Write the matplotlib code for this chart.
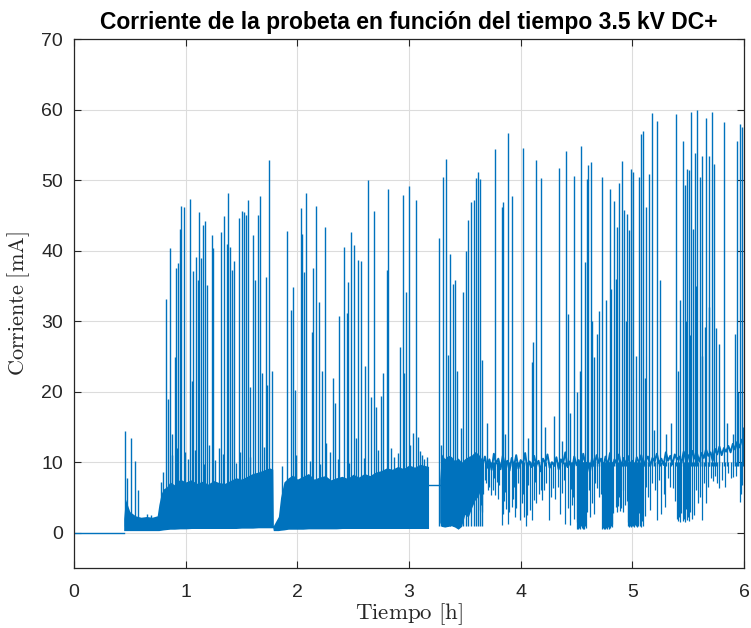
import numpy as np
import matplotlib.pyplot as plt

plt.rcParams['mathtext.fontset'] = 'cm'

BLUE = '#0072BD'
DARK = '#262626'

# --- data (time in h, current in mA) ---

# no current before the voltage is applied
flat_t = [0.0, 0.445]
flat_v = [0.0, 0.0]

# envelope of the dense band, 0.45 h - 3.18 h
band_t = [0.445, 0.46, 0.50, 0.55, 0.60, 0.65, 0.70, 0.745,
          0.76, 0.78, 0.80, 0.83, 0.86, 0.90, 0.95,
          1.00, 1.05, 1.10, 1.15, 1.20, 1.25, 1.30, 1.35, 1.40, 1.45,
          1.50, 1.55, 1.60, 1.65, 1.70, 1.75, 1.78,
          1.785, 1.83, 1.85, 1.88, 1.92, 1.96,
          2.00, 2.05, 2.10, 2.15, 2.20, 2.25, 2.30, 2.35, 2.40, 2.45,
          2.50, 2.55, 2.60, 2.65, 2.70, 2.75, 2.80, 2.85, 2.90, 2.95,
          3.00, 3.05, 3.10, 3.15, 3.175]
band_lo = [0.3, 0.3, 0.3, 0.3, 0.3, 0.3, 0.3, 0.3,
           0.3, 0.35, 0.4, 0.45, 0.5, 0.5, 0.55,
           0.55, 0.6, 0.6, 0.6, 0.6, 0.6, 0.6, 0.6, 0.6, 0.6,
           0.65, 0.65, 0.65, 0.7, 0.7, 0.7, 0.7,
           0.3, 0.3, 0.35, 0.4, 0.5, 0.5,
           0.5, 0.5, 0.55, 0.55, 0.55, 0.55, 0.55, 0.55, 0.6, 0.6,
           0.6, 0.6, 0.6, 0.6, 0.6, 0.6, 0.6, 0.6, 0.6, 0.6,
           0.6, 0.6, 0.6, 0.6, 0.6]
band_hi = [2.0, 4.8, 3.0, 2.4, 2.2, 2.3, 2.2, 2.4,
           4.0, 5.5, 6.2, 6.5, 7.2, 6.8, 7.6,
           7.2, 7.5, 7.0, 7.3, 6.9, 7.4, 7.1, 7.0, 7.4, 7.8,
           7.6, 8.0, 8.4, 8.6, 8.9, 9.2, 9.0,
           1.0, 2.3, 5.0, 7.2, 7.8, 8.2,
           7.6, 8.0, 8.4, 7.6, 7.9, 8.1, 7.5, 7.8, 8.0, 7.7,
           8.3, 7.9, 8.4, 8.1, 8.6, 8.8, 9.2, 9.0, 9.4, 9.1,
           9.6, 9.3, 9.7, 9.5, 9.4]

# plateau between the two dense parts
plateau_t = [3.175, 3.275]
plateau_v = [6.8, 6.8]

# second dense band, 3.28 h - 3.66 h
band2_t = [3.275, 3.29, 3.32, 3.35, 3.38, 3.41, 3.44, 3.47,
           3.50, 3.53, 3.56, 3.59, 3.62, 3.65, 3.665]
band2_lo = [1.5, 0.9, 0.8, 0.9, 1.0, 0.8, 0.5, 0.9,
            2.6, 2.2, 3.5, 4.6, 5.2, 6.5, 8.5]
band2_hi = [7.5, 11.2, 10.5, 11.0, 10.8, 10.2, 10.6, 10.0,
            10.5, 10.8, 11.0, 11.5, 11.2, 10.5, 10.0]

# noisy line after 3.66 h, one value every 0.02 h
line_v = [9.6, 10.8, 9.2, 10.4, 8.9, 11.2, 9.8, 10.5, 9.0, 10.9, 9.5,
          10.2, 8.8, 10.6, 9.4, 11.0, 9.1, 10.3, 9.7, 11.3, 9.0, 10.1,
          9.3, 10.9, 9.6, 10.2, 8.7, 10.5, 9.9, 11.1, 9.2, 10.0, 9.5,
          10.7, 9.0, 10.4, 9.8, 11.4, 9.3, 10.1, 8.9, 10.8, 9.6, 10.3,
          9.1, 11.2, 9.7, 10.0, 8.6, 10.6, 9.4, 11.0, 9.9, 10.5, 9.2,
          10.8, 9.5, 11.3, 9.0, 10.4, 9.8, 11.1, 9.3, 10.6, 9.7, 10.9,
          9.6, 10.2, 9.1, 10.7, 9.9, 11.0, 9.4, 10.3, 10.8, 9.5, 10.6,
          10.1, 11.2, 9.8, 10.5, 9.6, 11.4, 10.2, 10.9, 9.7, 11.1, 10.4,
          10.8, 9.9, 11.5, 10.3, 11.0, 10.0, 11.6, 10.5, 11.2, 10.1, 11.3,
          10.6, 11.8, 10.9, 11.4, 10.2, 11.9, 11.1, 12.2, 11.0, 12.0, 11.5,
          12.3, 11.4, 12.6, 11.8, 12.9, 12.1, 13.2, 12.5]
line_t = np.linspace(3.66, 6.0, len(line_v))

# deep drops of the line
dip_t = [3.64, 3.645, 3.655, 3.665, 3.69, 3.72, 3.735, 3.75, 3.77, 3.79,
         3.80, 3.83, 3.84, 3.855, 3.87, 3.89, 3.90, 3.92, 3.935, 3.95,
         3.96, 3.99, 4.01, 4.03, 4.05, 4.06, 4.08, 4.10, 4.12, 4.14,
         4.16, 4.19, 4.21, 4.25, 4.27, 4.29, 4.31, 4.35, 4.37, 4.40,
         4.42, 4.44, 4.46, 4.48, 4.50, 4.505, 4.51, 4.515, 4.52, 4.525,
         4.53, 4.535, 4.54, 4.545, 4.55, 4.555, 4.56, 4.565, 4.57, 4.575,
         4.58, 4.585, 4.59, 4.62, 4.64, 4.66, 4.68, 4.70, 4.73, 4.735,
         4.74, 4.745, 4.75, 4.755, 4.76, 4.765, 4.77, 4.775, 4.78, 4.785,
         4.79, 4.795, 4.80, 4.805, 4.81, 4.815, 4.82, 4.83, 4.85, 4.86,
         4.875, 4.89, 4.90, 4.915, 4.93, 4.96, 4.965, 4.97, 4.975, 4.98,
         4.985, 4.99, 4.995, 5.00, 5.005, 5.01, 5.015, 5.02, 5.03, 5.035,
         5.04, 5.05, 5.055, 5.06, 5.07, 5.08, 5.09, 5.10, 5.11, 5.16,
         5.22, 5.26, 5.29, 5.36, 5.40, 5.41, 5.42, 5.43, 5.44, 5.45,
         5.46, 5.47, 5.48, 5.49, 5.50, 5.51, 5.52, 5.53, 5.55, 5.59,
         5.62, 5.66, 5.72, 5.78, 5.83, 5.90, 5.96, 5.975]
dip_lo = [3.2, 4.0, 3.0, 5.5, 7.0, 6.5, 5.3, 6.0, 5.3, 7.2,
          4.8, 1.1, 2.7, 4.5, 3.3, 1.3, 3.0, 3.7, 4.8, 2.3,
          3.5, 1.8, 4.2, 2.3, 0.9, 2.5, 3.2, 1.8, 4.6, 4.2,
          5.5, 4.6, 6.0, 1.8, 5.0, 6.3, 4.8, 2.7, 5.6, 1.3,
          3.5, 1.1, 4.0, 2.0, 0.6, 1.5, 0.8, 0.6, 2.5, 0.7,
          1.0, 0.6, 0.9, 0.7, 1.3, 0.6, 2.0, 0.8, 0.6, 1.6,
          0.9, 0.7, 3.0, 2.3, 4.2, 2.7, 6.4, 5.0, 0.6, 1.0,
          0.7, 0.6, 1.4, 0.6, 0.9, 0.7, 1.8, 0.6, 1.1, 0.8,
          0.6, 1.5, 0.7, 1.0, 2.2, 0.8, 1.3, 2.8, 3.6, 3.0,
          3.8, 3.1, 3.5, 2.9, 4.0, 0.9, 1.5, 0.8, 2.0, 0.9,
          1.2, 0.8, 2.5, 1.0, 0.9, 1.6, 0.8, 1.1, 0.9, 2.2,
          0.8, 1.3, 0.9, 2.8, 1.0, 0.8, 1.7, 0.9, 2.4, 3.2,
          1.8, 2.7, 3.7, 6.3, 2.0, 1.6, 2.3, 1.5, 2.8, 1.7,
          2.0, 1.5, 3.3, 1.8, 2.2, 1.6, 2.9, 1.9, 2.5, 4.2,
          1.8, 4.2, 7.3, 6.4, 6.5, 7.9, 4.4, 5.5]

# shallow drops of the line
dip2_t = [3.68, 3.71, 3.76, 3.81, 3.86, 3.94, 3.98, 4.02, 4.07, 4.13,
          4.18, 4.23, 4.33, 4.39, 4.45, 4.47, 4.61, 4.67, 4.72, 4.88,
          4.92, 4.95, 5.12, 5.14, 5.18, 5.20, 5.24, 5.28, 5.32, 5.34,
          5.38, 5.57, 5.61, 5.64, 5.68, 5.70, 5.74, 5.76, 5.80, 5.86,
          5.88, 5.93, 5.98]
dip2_lo = [7.5, 6.0, 7.8, 6.8, 5.8, 6.5, 7.0, 5.5, 6.8, 7.2,
           6.0, 7.0, 6.5, 7.5, 6.2, 5.0, 6.0, 7.0, 5.5, 5.0,
           6.0, 4.5, 6.5, 5.0, 7.0, 6.0, 7.5, 5.5, 7.8, 6.5,
           4.5, 6.0, 5.0, 7.0, 6.5, 7.8, 8.0, 7.0, 7.5, 8.5,
           7.8, 8.0, 6.8]

# spikes rising from the dense bands
spike_t = [0.457, 0.471, 0.51, 0.546, 0.57, 0.65, 0.69, 0.78, 0.80, 0.821,
           0.838, 0.859, 0.875, 0.901, 0.913, 0.931, 0.949, 0.961, 0.982, 0.995,
           1.042, 1.056, 1.068, 1.089, 1.107, 1.122, 1.137, 1.152, 1.17, 1.188,
           1.205, 1.232, 1.247, 1.30, 1.313, 1.343, 1.367, 1.382, 1.40, 1.418,
           1.435, 1.477, 1.504, 1.519, 1.54, 1.555, 1.575, 1.60, 1.62, 1.645,
           1.665, 1.68, 1.716, 1.73, 1.749, 1.77, 1.91, 1.943, 1.964, 1.979,
           2.03, 2.045, 2.062, 2.077, 2.134, 2.143, 2.17, 2.197, 2.218, 2.247,
           2.256, 2.319, 2.337, 2.376, 2.417, 2.441, 2.453, 2.48, 2.507, 2.525,
           2.546, 2.57, 2.608, 2.632, 2.656, 2.683, 2.701, 2.749, 2.77, 2.80,
           2.808, 2.87, 2.919, 2.943, 2.958, 2.973, 2.996, 3.038, 3.062, 3.08,
           3.119, 3.137, 3.268, 3.283, 3.307, 3.334, 3.351, 3.366, 3.39, 3.414,
           3.426, 3.468, 3.48, 3.507, 3.53, 3.557, 3.578, 3.599, 3.62, 3.635,
           3.653]
spike_peak = [14.4, 7.7, 13.5, 10.1, 6.0, 2.6, 2.5, 7.2, 8.6, 33.2,
              19.0, 40.4, 14.0, 24.9, 37.6, 38.2, 43.1, 46.3, 46.2, 11.5,
              47.3, 21.5, 37.1, 39.1, 35.8, 45.5, 38.9, 43.7, 44.2, 35.1,
              12.5, 42.2, 40.4, 12.0, 42.6, 44.9, 41.0, 48.1, 40.5, 37.3,
              38.5, 44.6, 45.6, 45.5, 45.0, 47.2, 20.7, 42.2, 35.8, 45.1,
              47.7, 22.6, 36.2, 21.0, 52.8, 23.0, 42.8, 31.6, 34.9, 20.2,
              46.1, 42.4, 37.0, 48.1, 28.4, 37.5, 46.3, 32.7, 23.0, 43.4,
              12.7, 22.0, 18.4, 30.7, 40.5, 31.1, 35.6, 42.7, 40.8, 13.5,
              38.7, 38.5, 23.6, 50.0, 19.3, 45.6, 17.8, 19.4, 22.7, 37.2,
              48.7, 10.8, 26.4, 47.9, 22.6, 34.2, 49.1, 14.1, 47.2, 13.6,
              11.0, 10.5, 41.8, 12.4, 50.4, 53.0, 25.2, 39.5, 35.2, 35.9,
              23.0, 14.8, 34.2, 39.9, 44.3, 46.9, 47.2, 50.3, 51.1, 50.2,
              24.5]

# short spikes that make the top of the band ragged
short_t = [0.88, 0.92, 1.02, 1.08, 1.16, 1.26, 1.33, 1.45, 1.49, 1.58,
           1.70, 1.86, 1.99, 2.11, 2.20, 2.29, 2.36, 2.46, 2.60, 2.72,
           2.84, 2.90, 3.01, 3.10, 3.16]
short_peak = [11.0, 12.0, 10.5, 11.8, 9.8, 10.3, 11.2, 9.9, 11.5, 10.8,
              12.2, 9.5, 11.0, 10.2, 9.8, 11.4, 10.5, 9.9, 10.6, 11.8,
              12.0, 11.3, 12.4, 11.6, 10.8]

# spikes rising from the line after 3.66 h
spike2_t = [3.70, 3.77, 3.829, 3.844, 3.86, 3.889, 3.918, 4.017, 4.07, 4.098,
            4.112, 4.136, 4.181, 4.22, 4.30, 4.345, 4.37, 4.402, 4.426, 4.44,
            4.474, 4.50, 4.53, 4.542, 4.578, 4.59, 4.605, 4.626, 4.64, 4.656,
            4.685, 4.70, 4.727, 4.76, 4.796, 4.81, 4.835, 4.85, 4.859, 4.882,
            4.909, 4.927, 4.94, 4.951, 4.969, 4.987, 5.002, 5.03, 5.061, 5.082,
            5.097, 5.11, 5.121, 5.148, 5.178, 5.19, 5.217, 5.246, 5.30, 5.35,
            5.387, 5.41, 5.43, 5.455, 5.47, 5.48, 5.491, 5.506, 5.52, 5.524,
            5.545, 5.56, 5.57, 5.581, 5.605, 5.62, 5.628, 5.649, 5.664, 5.688,
            5.69, 5.709, 5.733, 5.75, 5.778, 5.822, 5.85, 5.90, 5.918, 5.933,
            5.95, 5.963, 5.978, 5.99]
spike2_peak = [15.5, 54.4, 46.2, 46.9, 14.0, 56.7, 47.7, 54.5, 13.5, 24.2,
               27.0, 52.9, 50.3, 15.0, 16.5, 51.7, 13.0, 54.1, 31.0, 17.0,
               50.6, 20.0, 23.0, 54.9, 38.4, 50.2, 52.2, 52.6, 30.0, 24.9,
               28.2, 31.5, 50.4, 33.0, 48.8, 34.5, 47.1, 36.0, 43.3, 49.6,
               52.7, 45.7, 30.0, 45.2, 42.9, 51.6, 51.1, 25.0, 50.5, 56.6,
               56.9, 22.0, 46.2, 50.8, 59.5, 14.5, 58.4, 35.8, 14.0, 15.5,
               59.3, 23.0, 33.0, 55.6, 49.3, 30.0, 51.5, 51.4, 28.0, 59.7,
               43.1, 53.8, 35.0, 59.9, 50.5, 25.0, 53.4, 29.2, 58.8, 53.4,
               32.0, 59.6, 52.3, 29.0, 26.8, 58.2, 15.5, 14.0, 28.2, 55.6,
               20.0, 57.9, 57.5, 15.0]

# --- figure ---
fig = plt.figure(figsize=(7.51, 6.28), dpi=100)
ax = fig.add_axes([74 / 751, 1 - 568 / 628, 670 / 751, 529 / 628])

ax.plot(flat_t, flat_v, color=BLUE, lw=1.0)
ax.fill_between(band_t, band_lo, band_hi, color=BLUE, lw=0)
ax.plot(plateau_t, plateau_v, color=BLUE, lw=1.0)
ax.fill_between(band2_t, band2_lo, band2_hi, color=BLUE, lw=0)
ax.plot(line_t, line_v, color=BLUE, lw=1.4)
ax.vlines(dip_t, dip_lo, 10.0, color=BLUE, lw=0.9)
ax.vlines(dip2_t, dip2_lo, 10.0, color=BLUE, lw=0.9)
ax.vlines(spike_t, 1.0, spike_peak, color=BLUE, lw=1.0)
ax.vlines(short_t, 1.0, short_peak, color=BLUE, lw=1.0)
ax.vlines(spike2_t, 9.5, spike2_peak, color=BLUE, lw=1.0)

ax.set_xlim(0, 6)
ax.set_ylim(-5, 70)
ax.set_xticks(range(0, 7))
ax.set_yticks(range(0, 80, 10))
ax.grid(True, color='#dcdcdc', lw=0.8)
ax.set_axisbelow(True)

for s in ax.spines.values():
    s.set_color(DARK)
    s.set_linewidth(0.9)
ax.tick_params(direction='in', length=5, width=0.8, color=DARK,
               top=True, right=True, labelsize=14, labelcolor=DARK)
ax.tick_params(axis='x', pad=11.5)
ax.tick_params(axis='y', pad=8)
for lab in ax.get_xticklabels() + ax.get_yticklabels():
    lab.set_family('Liberation Sans')

ax.set_xlabel(r'$\mathrm{Tiempo\ [h]}$', fontsize=16.5, color=DARK)
ax.set_ylabel(r'$\mathrm{Corriente\ [mA]}$', fontsize=16, color=DARK)
ax.xaxis.set_label_coords(0.5, -0.062)
ax.yaxis.set_label_coords(-0.063, 0.5)
ax.set_title('Corriente de la probeta en función del tiempo 3.5 kV DC+',
             fontsize=16.5, fontweight='bold', family='Liberation Sans', pad=7)

fig.savefig('out.png', dpi=100)
